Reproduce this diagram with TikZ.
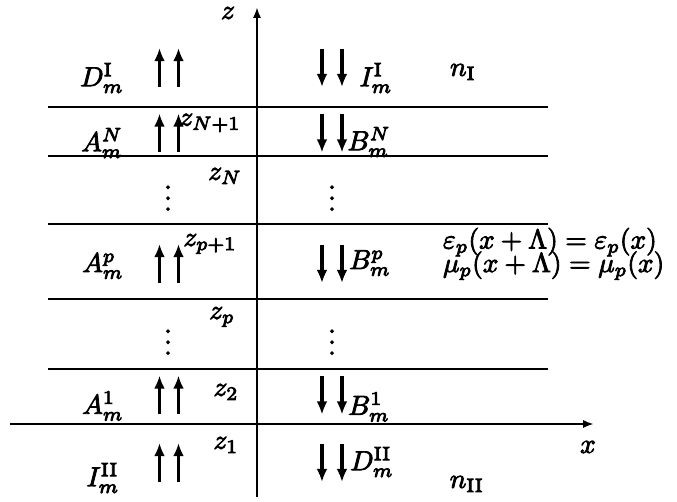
\documentclass[tikz,border=0pt]{standalone}
\usetikzlibrary{arrows.meta}
\newcommand{\heavytext}{\special{pdf:literal 2 Tr 0.3 w}}
\begin{document}
\begin{tikzpicture}[x=0.365pt,y=-0.365pt,
  lay/.style={line width=1pt},
  axis/.style={line width=1pt,-{Latex[length=4pt,width=3pt]}},
  arr/.style={line width=1.15pt,-{Latex[length=4.8pt,width=4pt]}},
  lbl/.style={inner sep=0pt,outer sep=0pt,font=\heavytext},
  pics/uppair/.style={code={
    \draw[arr] (-9.5,19) -- (-9.5,-19.5);
    \draw[arr] (9.5,19) -- (9.5,-19.5);}},
  pics/downpair/.style={code={
    \draw[arr] (-10,-19) -- (-10,19.5);
    \draw[arr] (10,-19) -- (10,19.5);}}]
\useasboundingbox (0,0) rectangle (677,502);
% axes
\coordinate (zb) at (257,497);
\coordinate (zt) at (257,7);
\coordinate (xl) at (10,424);
\coordinate (xr) at (594,424);
\draw[axis] (zb) -- (zt);
\draw[axis] (xl) -- (xr);
% layer boundaries
\foreach \yy/\nm in {107/l1,156/l2,224/l3,299/l4,369/l5}{
  \coordinate (\nm a) at (48,\yy);
  \coordinate (\nm b) at (548,\yy);
  \draw[lay] (\nm a) -- (\nm b);
}
% arrow pairs
\foreach \yy in {67.5,133,263.5,395,462.5}{
  \pic at (169,\yy) {uppair};
  \pic at (332,\yy) {downpair};
}
% labels
\node[lbl] (zlab) at (228,13) {$z$};
\node[lbl] (xlab) at (588,447) {$x$};
\node[lbl] (DI) at (102,78) {$D_m^{\mathrm{I}}$};
\node[lbl] (II) at (376,78) {$I_m^{\mathrm{I}}$};
\node[lbl] (nI) at (463,72) {$n_{\mathrm{I}}$};
\node[lbl] (AN) at (102,143) {$A_m^N$};
\node[lbl] (zN1) at (210,123) {$z_{N+1}$};
\node[lbl] (BN) at (369,142) {$B_m^N$};
\node[lbl] (vd1) at (168,190) {$\vdots$};
\node[lbl] (vd2) at (332,190) {$\vdots$};
\node[lbl] (zN) at (225,176) {$z_N$};
\node[lbl] (Ap) at (103,266) {$A_m^p$};
\node[lbl] (zp1) at (210,244) {$z_{p+1}$};
\node[lbl] (Bp) at (370,263) {$B_m^p$};
\node[lbl,anchor=base west] (eps) at (443,248.5) {$\varepsilon_p(x+\Lambda)=\varepsilon_p(x)$};
\node[lbl,anchor=base west] (mu) at (443,272) {$\mu_p(x+\Lambda)=\mu_p(x)$};
\node[lbl] (vd3) at (168,334) {$\vdots$};
\node[lbl] (vd4) at (332,334) {$\vdots$};
\node[lbl] (zp) at (222,317) {$z_p$};
\node[lbl] (A1) at (103,406) {$A_m^1$};
\node[lbl] (z2) at (226,392) {$z_2$};
\node[lbl] (B1) at (369,407) {$B_m^1$};
\node[lbl] (z1) at (226,445) {$z_1$};
\node[lbl] (IIIm) at (103,478) {$I_m^{\mathrm{II}}$};
\node[lbl] (DII) at (372,462) {$D_m^{\mathrm{II}}$};
\node[lbl] (nII) at (467,484) {$n_{\mathrm{II}}$};
\end{tikzpicture}
\end{document}
